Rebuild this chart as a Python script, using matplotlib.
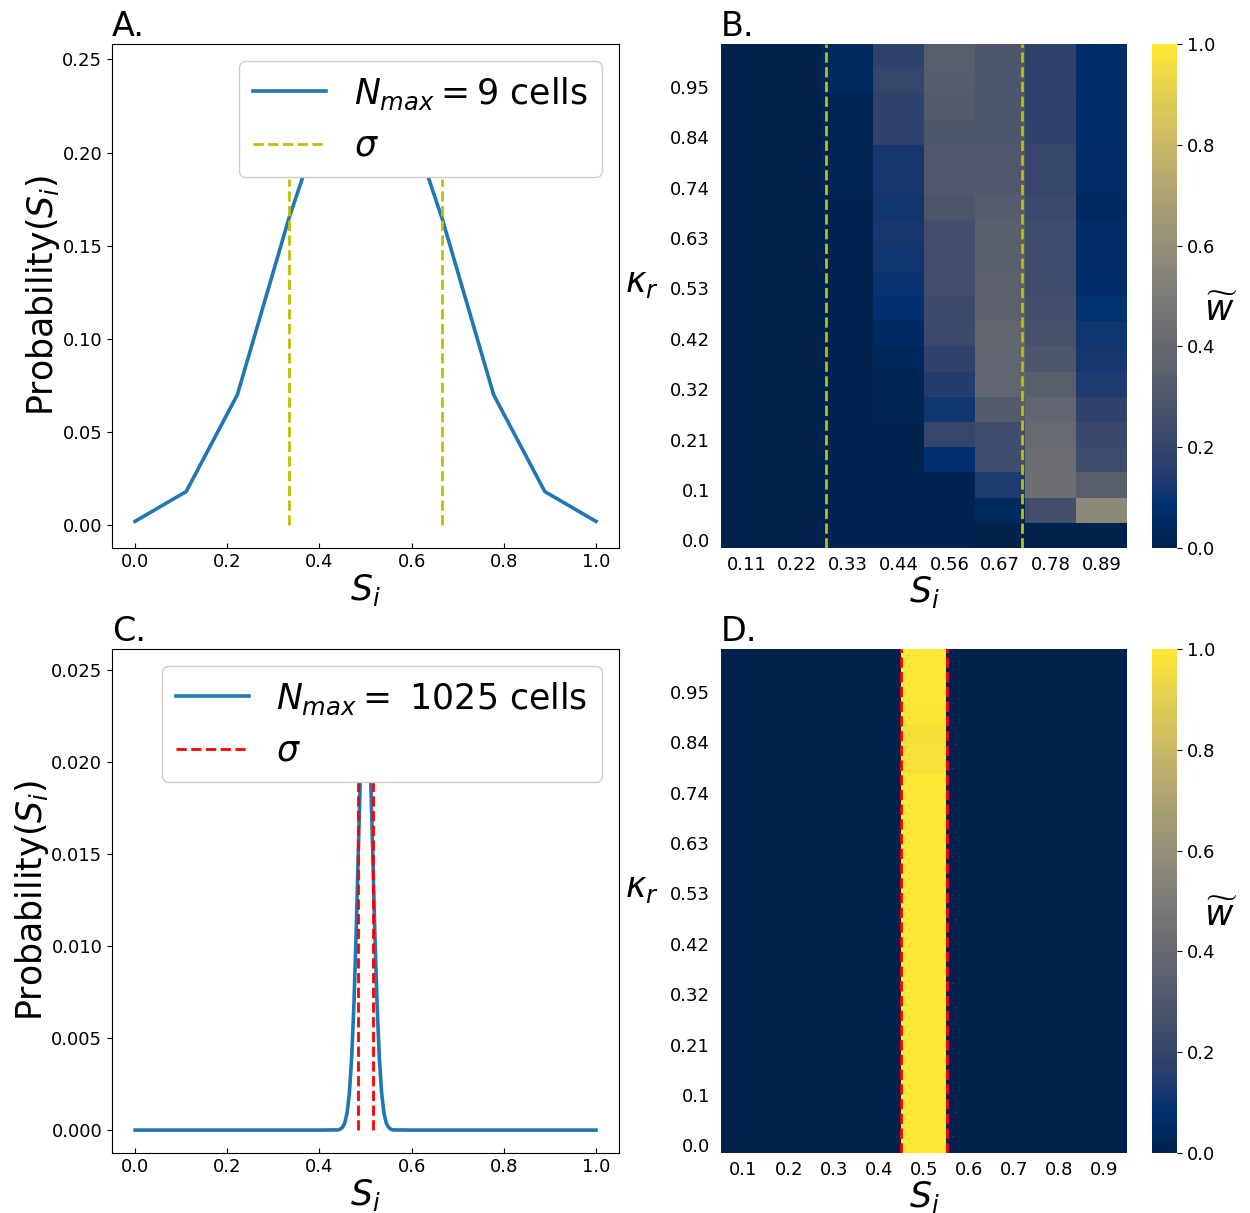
import numpy as np
import matplotlib
matplotlib.use('Agg')
import matplotlib.pyplot as plt

# ---- panel A : N_max = 9 cells
a_s = [0.0, 0.111, 0.222, 0.333, 0.444, 0.556, 0.667, 0.778, 0.889, 1.0]
a_prob = [0.002, 0.018, 0.070, 0.164, 0.246, 0.246, 0.164, 0.070, 0.018, 0.002]
a_sigma = [0.333, 0.667]
a_sigma_top = 0.186

# ---- panel C : N_max = 1025 cells
c_s = [0.0, 0.2, 0.4, 0.44, 0.445, 0.45, 0.455, 0.46, 0.465, 0.47, 0.475, 0.48,
       0.485, 0.49, 0.495, 0.5, 0.505, 0.51, 0.515, 0.52, 0.525, 0.53, 0.535,
       0.54, 0.545, 0.55, 0.555, 0.56, 0.6, 0.8, 1.0]
c_prob = [0.0, 0.0, 0.0, 0.00001, 0.00005, 0.00015, 0.00039, 0.00093, 0.00201,
          0.00392, 0.0069, 0.01095, 0.01569, 0.02028, 0.02366, 0.0249, 0.02366,
          0.02028, 0.01569, 0.01095, 0.0069, 0.00392, 0.00201, 0.00093, 0.00039,
          0.00015, 0.00005, 0.00001, 0.0, 0.0, 0.0]
c_sigma = [0.4844, 0.5156]
c_sigma_top = 0.0189

# ---- heatmaps (rows: kappa_r from bottom to top)
kappa_labels = ['0.0', '0.1', '0.21', '0.32', '0.42', '0.53', '0.63', '0.74', '0.84', '0.95']
b_xlabels = ['0.11', '0.22', '0.33', '0.44', '0.56', '0.67', '0.78', '0.89']
b_w = [
    [0.0, 0.0, 0.01, 0.01, 0.01, 0.00, 0.00, 0.00],
    [0.0, 0.0, 0.01, 0.01, 0.01, 0.04, 0.25, 0.57],
    [0.0, 0.0, 0.01, 0.01, 0.01, 0.14, 0.43, 0.34],
    [0.0, 0.0, 0.01, 0.01, 0.08, 0.24, 0.42, 0.24],
    [0.0, 0.0, 0.01, 0.01, 0.20, 0.24, 0.40, 0.22],
    [0.0, 0.0, 0.01, 0.02, 0.11, 0.32, 0.38, 0.18],
    [0.0, 0.0, 0.01, 0.02, 0.15, 0.38, 0.34, 0.14],
    [0.0, 0.0, 0.01, 0.03, 0.19, 0.38, 0.30, 0.12],
    [0.0, 0.0, 0.01, 0.05, 0.23, 0.39, 0.27, 0.11],
    [0.0, 0.0, 0.01, 0.08, 0.23, 0.36, 0.26, 0.09],
    [0.0, 0.0, 0.01, 0.10, 0.26, 0.36, 0.24, 0.07],
    [0.0, 0.0, 0.01, 0.11, 0.26, 0.35, 0.24, 0.06],
    [0.0, 0.0, 0.01, 0.12, 0.26, 0.35, 0.24, 0.06],
    [0.0, 0.0, 0.01, 0.11, 0.29, 0.33, 0.23, 0.05],
    [0.0, 0.0, 0.02, 0.12, 0.31, 0.31, 0.21, 0.06],
    [0.0, 0.0, 0.02, 0.12, 0.31, 0.31, 0.21, 0.06],
    [0.0, 0.0, 0.02, 0.18, 0.30, 0.30, 0.19, 0.07],
    [0.0, 0.0, 0.02, 0.18, 0.32, 0.29, 0.19, 0.07],
    [0.0, 0.0, 0.04, 0.20, 0.33, 0.29, 0.18, 0.07],
    [0.0, 0.0, 0.04, 0.18, 0.34, 0.30, 0.18, 0.07],
]
b_sigma = [2.06, 5.94]  # column units

d_xlabels = ['0.1', '0.2', '0.3', '0.4', '0.5', '0.6', '0.7', '0.8', '0.9']
d_center = [1.0, 1.0, 1.0, 1.0, 1.0, 1.0, 1.0, 1.0, 1.0, 1.0,
            1.0, 1.0, 1.0, 1.0, 1.0, 0.975, 0.97, 0.99, 1.0, 1.0]
d_w = np.zeros((20, 9))
d_w[:, 4] = d_center
d_sigma = [3.98, 5.02]

W, H = 1250, 1213
fig = plt.figure(figsize=(W / 100, H / 100), dpi=100)


def px_axes(x0, y0, x1, y1):
    return fig.add_axes([x0 / W, 1 - y1 / H, (x1 - x0) / W, (y1 - y0) / H])


TICK = 13
LAB = 25


def line_panel(ax, s, p, sig, top, col, label, title):
    ax.plot(s, p, color='#1f77b4', lw=2.6, label=label)
    ax.vlines(sig, 0, top, colors=col, linestyles='--', lw=2, label=r'$\sigma$')
    ax.set_xticks([0.0, 0.2, 0.4, 0.6, 0.8, 1.0])
    ax.tick_params(axis='x', direction='in', labelsize=TICK)
    ax.tick_params(axis='y', labelsize=TICK)
    ax.set_xlabel(r'$S_i$', fontsize=LAB, labelpad=1)
    ax.set_ylabel(r'Probability$(S_i)$', fontsize=LAB, labelpad=0)
    ax.set_title(title, loc='left', fontsize=24)
    ax.legend(loc='upper right', fontsize=25, handlelength=2.1, framealpha=1)


def heat_panel(ax, cax, w, xlabels, sig, col, title):
    w = np.asarray(w)
    nr, nc = w.shape
    im = ax.imshow(w, cmap='cividis', vmin=0, vmax=1, origin='lower', aspect='auto',
                   extent=(0, nc, 0, nr), interpolation='nearest')
    for x in sig:
        ax.axvline(x, color=col, ls='--', lw=2)
    ax.set_xlim(0, nc)
    ax.set_ylim(0, nr)
    ax.set_xticks(np.arange(nc) + 0.5)
    ax.set_xticklabels(xlabels)
    ax.set_yticks(np.arange(0, nr, 2) + 0.3)
    ax.set_yticklabels(kappa_labels)
    ax.tick_params(length=0, labelsize=13)
    ax.tick_params(axis='y', pad=8)
    ax.tick_params(axis='x', pad=6)
    for sp in ax.spines.values():
        sp.set_visible(False)
    ax.set_xlabel(r'$S_i$', fontsize=LAB, labelpad=0)
    ax.set_ylabel(r'$\kappa_r$', fontsize=LAB, rotation=0, va='center')
    ax.yaxis.set_label_coords(-0.196, 0.526)
    ax.set_title(title, loc='left', fontsize=24)
    cb = fig.colorbar(im, cax=cax)
    cb.outline.set_visible(False)
    cb.set_ticks([0.0, 0.2, 0.4, 0.6, 0.8, 1.0])
    cax.tick_params(labelsize=TICK)
    cax.text(2.76, 0.47, r'$\widetilde{w}$', transform=cax.transAxes,
             ha='center', va='center', fontsize=LAB)


axA = px_axes(112, 44, 619, 548)
line_panel(axA, a_s, a_prob, a_sigma, a_sigma_top, 'y', r'$N_{max} = 9$ cells', 'A.')

axC = px_axes(112, 649, 619, 1153)
line_panel(axC, c_s, c_prob, c_sigma, c_sigma_top, 'r', r'$N_{max} = $ 1025 cells', 'C.')

axB = px_axes(721, 44, 1127, 548)
caxB = px_axes(1152, 44, 1177, 548)
heat_panel(axB, caxB, b_w, b_xlabels, b_sigma, 'y', 'B.')

axD = px_axes(721, 649, 1127, 1153)
caxD = px_axes(1152, 649, 1177, 1153)
heat_panel(axD, caxD, d_w, d_xlabels, d_sigma, 'r', 'D.')

fig.savefig('out.png', dpi=100)
